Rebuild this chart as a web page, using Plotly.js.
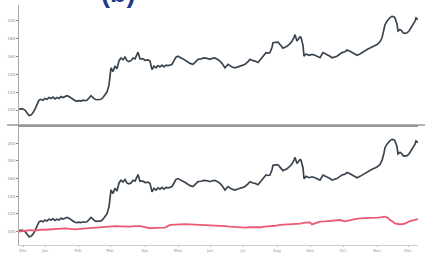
<!DOCTYPE html>
<html><head><meta charset="utf-8">
<script src="https://cdn.plot.ly/plotly-3.0.1.min.js"></script>
<style>html,body{margin:0;padding:0;background:#fff}#c{width:425px;height:253px}</style>
</head><body><div id="c"></div>
<script>
// time index (trading-period position) and index levels
const tBlack = [0,3,6,8,10,12,14,16,18,20,22,24,26,28,30,32,34,36,38,40,42,44,46,48,50,52,54,56,58,60,62,64,66,68,70,72,74,76,78,80,82,84,86,88,90,91,92,94,96,98,100,102,104,106,108,110,112,114,116,118,119,121,124,126,129,131,133,135,137,139,141,143,145,147,149,151,153,155,157,159,161,164,167,169,171,174,176,179,182,185,188,191,193,196,199,201,203,206,209,211,213,216,219,221,224,226,229,231,234,236,239,241,243,245,247,249,251,253,254,257,259,261,264,266,268,271,273,275,276,278,280,281,282,284,285,287,290,293,296,298,301,304,306,308,311,313,316,318,321,323,326,328,331,333,336,338,341,343,346,348,351,353,356,358,361,363,365,366,368,369,371,373,375,376,378,379,381,383,384,386,388,390,391,393,394,396,397,398,399];
const vBlack = [101,101.5,100,97,94,94.5,97,101,106,111,112,111,113,112,114,113,114.5,112.5,114,113,115,114,115,116,115,113,112,110.5,110,110.5,110,111,110.5,111,113,116,114,112,111.5,112,112,114,117,120,128,140,147,143,149,146,155,158,156,159,155,154,155,158,157,162,164.5,157,157,155.5,156,154.5,145,149,147,149.5,148,150,148,150,149.5,150,151,155,159,160,159,157,155,153,152,151,153,156.5,157,158,157.5,156.5,157.5,158,156,154.6,152,147,151,149.5,148,147,148.5,149,150,151,154,156.5,155,154.6,153,156,158,162,164,163.5,164,170,175,175.5,175.6,173,169,170,171,174,176.7,181,184,177,180,181.6,181,172,160,162.5,161,162,161,160,158.3,164,163,162,160,158.3,159,160,162.5,164,165,166.8,165.5,164,162,161,162.5,164,166,167.5,169,170.5,172,173,176,180.5,189,195,199,200.7,203,204.4,204,202.6,196,188,189.7,188,186,185.5,186,188,189.7,193,195,199,202.6,201,200.7];
const tRed = [0,6,11,16,21,26,31,36,41,46,51,56,61,66,71,76,81,86,91,96,101,106,111,116,121,126,131,136,141,146,151,156,161,166,171,176,181,186,191,196,201,206,211,216,221,226,231,236,241,246,251,256,261,266,271,276,281,286,291,293,296,301,306,311,316,321,326,331,336,341,346,351,356,359,363,366,369,371,374,376,379,381,384,387,391,395,399];
const vRed = [100,100.5,101.5,101,102,102,102.5,102.5,103,103.5,103,102.5,103,103.5,103.5,104,104.5,105,105.6,106,105.8,105.5,105.6,106,106,105,103.7,104,104.2,104.5,107.5,108,108,108.3,108,107.8,107.5,107.5,107,107,106.7,106,105.5,105,104.8,104.5,104.8,104.6,104.8,105.5,105.6,106.5,107.5,107.8,108,108.5,109,110,110.4,108,109,111.2,111.5,112,112.5,113,111.5,113,114,114.9,115,115.2,115.5,115.7,116.2,116.8,115.5,113,111,109.3,108.5,108,108.5,109.5,111.9,113,114];
const yTicks = [100,120,140,160,180,200];
const xTickVals = [4,26,59,91,126,159,191,224,258,291,324,358,389];
const xTickText = ['Dec','Jan','Feb','Mar','Apr','May','Jun','Jul','Aug','Sep','Oct','Nov','Dec'];

const black = '#3b4550', red = '#ec5a72';
const data = [
  {x:tBlack, y:vBlack, type:'scatter', mode:'lines', line:{color:black,width:1.7}, xaxis:'x', yaxis:'y', hoverinfo:'skip'},
  {x:tBlack, y:vBlack, type:'scatter', mode:'lines', line:{color:black,width:1.7}, xaxis:'x2', yaxis:'y2', hoverinfo:'skip'},
  {x:tRed, y:vRed, type:'scatter', mode:'lines', line:{color:red,width:1.8}, xaxis:'x2', yaxis:'y2', hoverinfo:'skip'}
];
const yax = {tickvals:yTicks, ticks:'outside', ticklen:2, tickcolor:'#888', tickfont:{size:4,color:'#888',family:'DejaVu Sans'},
  showgrid:false, zeroline:false, showline:true, linecolor:'#aaa', linewidth:1};
const layout = {
  width:425, height:253, margin:{l:19,r:7,t:5,b:8},
  paper_bgcolor:'#fff', plot_bgcolor:'#fff', showlegend:false,
  xaxis:{domain:[0,1], range:[0,399], anchor:'y', showticklabels:false, ticks:'', showgrid:false, zeroline:false, showline:true, linecolor:'#999', linewidth:1.5},
  yaxis:Object.assign({domain:[0.5,1], range:[83.4,217], anchor:'x'}, yax),
  xaxis2:{domain:[0,1], range:[0,399], anchor:'y2', tickvals:xTickVals, ticktext:xTickText, ticks:'outside', ticklen:1, tickcolor:'#aaa',
    tickfont:{size:4,color:'#999',family:'DejaVu Sans'}, showgrid:false, zeroline:false, showline:true, linecolor:'#ccc', linewidth:1},
  yaxis2:Object.assign({domain:[0,0.49], range:[84.7,218], anchor:'x2'}, yax),
  shapes:[{type:'line', xref:'paper', yref:'paper', x0:-0.03, x1:1.02, y0:0.5, y1:0.5, line:{color:'#999',width:1.6}}],
  annotations:[{text:'<b>(b)</b>', xref:'paper', yref:'paper', x:(118-19)/399, y:1+(5-10)/240, xanchor:'center', yanchor:'bottom',
    showarrow:false, font:{size:27,color:'#1f3a8a',family:'Liberation Sans'}}]
};
Plotly.newPlot('c', data, layout, {staticPlot:true, displayModeBar:false});
</script></body></html>
